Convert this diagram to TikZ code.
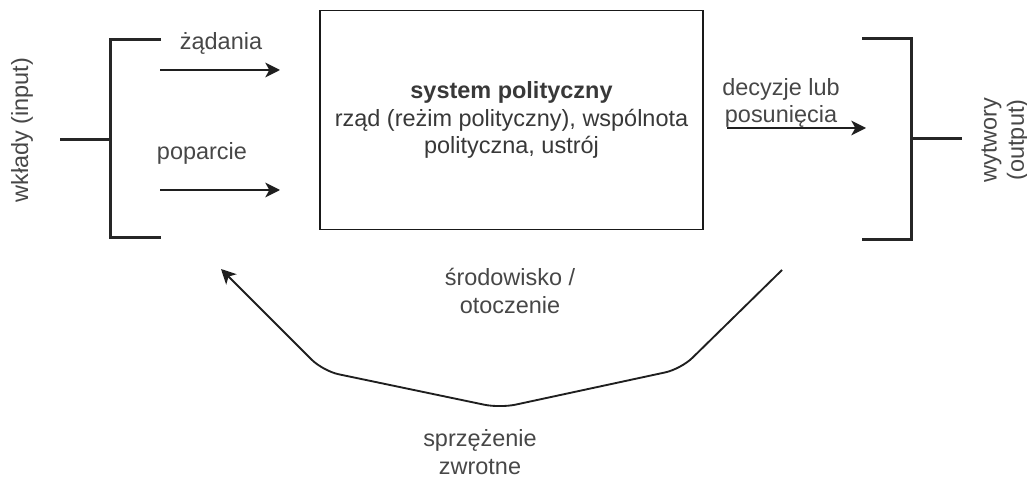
\documentclass[tikz,border=0pt]{standalone}
\usepackage{fontspec}
\setmainfont{Liberation Sans}
\usetikzlibrary{arrows.meta}

\tikzset{
	txt/.style={color=black!72, font=\fontsize{17.6}{20.5}\selectfont, align=center, inner sep=0pt},
	brk/.style={line width=2.25pt, color=black!85},
	flow/.style={line width=1.4pt, color=black!88, -{Stealth[length=11pt,width=11pt,inset=3pt]}},
}

\begin{document}
\begin{tikzpicture}[x=0.75pt,y=0.75pt,yscale=-1,xscale=1]
	\useasboundingbox (0,0) rectangle (1027,477);
	
	%Shape: Rectangle [system]
	\node [draw, line width=1.1pt, minimum width=287.25pt, minimum height=164.25pt, inner sep=0pt, align=center, color=black!90, text=black!78, font=\fontsize{17.6}{20.5}\selectfont] (sys) at (511.5,120) {\textbf{system polityczny}\\rząd (reżim polityczny), wspólnota\\polityczna, ustrój};
	
	%Shape: Bracket [input]
	\draw [brk] (161,40) -- (110,40) -- (110,238) -- (161,238) (110,140) -- (60,140) ;
	%Shape: Bracket [output]
	\draw [brk] (862,39) -- (911,39) -- (911,240) -- (862,240) (911,139) -- (962,139) ;
	
	%Straight Lines [demands]
	\coordinate (dIn) at (160,70);
	\coordinate (dOut) at (280,70);
	\draw [flow] (dIn) -- (dOut) ;
	%Straight Lines [support]
	\coordinate (pIn) at (160,190);
	\coordinate (pOut) at (280,190);
	\draw [flow] (pIn) -- (pOut) ;
	%Straight Lines [decisions]
	\coordinate (oIn) at (727,128);
	\coordinate (oOut) at (866,128);
	\draw [flow] (oIn) -- (oOut) ;
	
	%Curve Lines [feedback]
	\coordinate (fbStart) at (782,270);
	\coordinate (fbR) at (681,369);
	\coordinate (fbB) at (500,408);
	\coordinate (fbL) at (323,371);
	\coordinate (fbTip) at (221,269);
	\draw [flow, rounded corners=12pt] (fbStart) -- (fbR) -- (fbB) -- (fbL) -- (fbTip) ;
	
	% Text Node
	\node [txt] (lblDem) at (221,43) {żądania};
	% Text Node
	\node [txt] (lblSup) at (202,153) {poparcie};
	% Text Node
	\node [txt] (lblDec) at (781,103) {decyzje lub\\posunięcia};
	% Text Node
	\node [txt, rotate=90] (lblIn) at (22,130) {wkłady (input)};
	% Text Node
	\node [txt, rotate=90] (lblOut) at (1005,140) {wytwory\\(output)};
	% Text Node
	\node [txt] (lblEnv) at (510,291) {środowisko /\\otoczenie};
	% Text Node
	\node [txt] (lblFb) at (480,452) {sprzężenie\\zwrotne};
	
\end{tikzpicture}
\end{document}
